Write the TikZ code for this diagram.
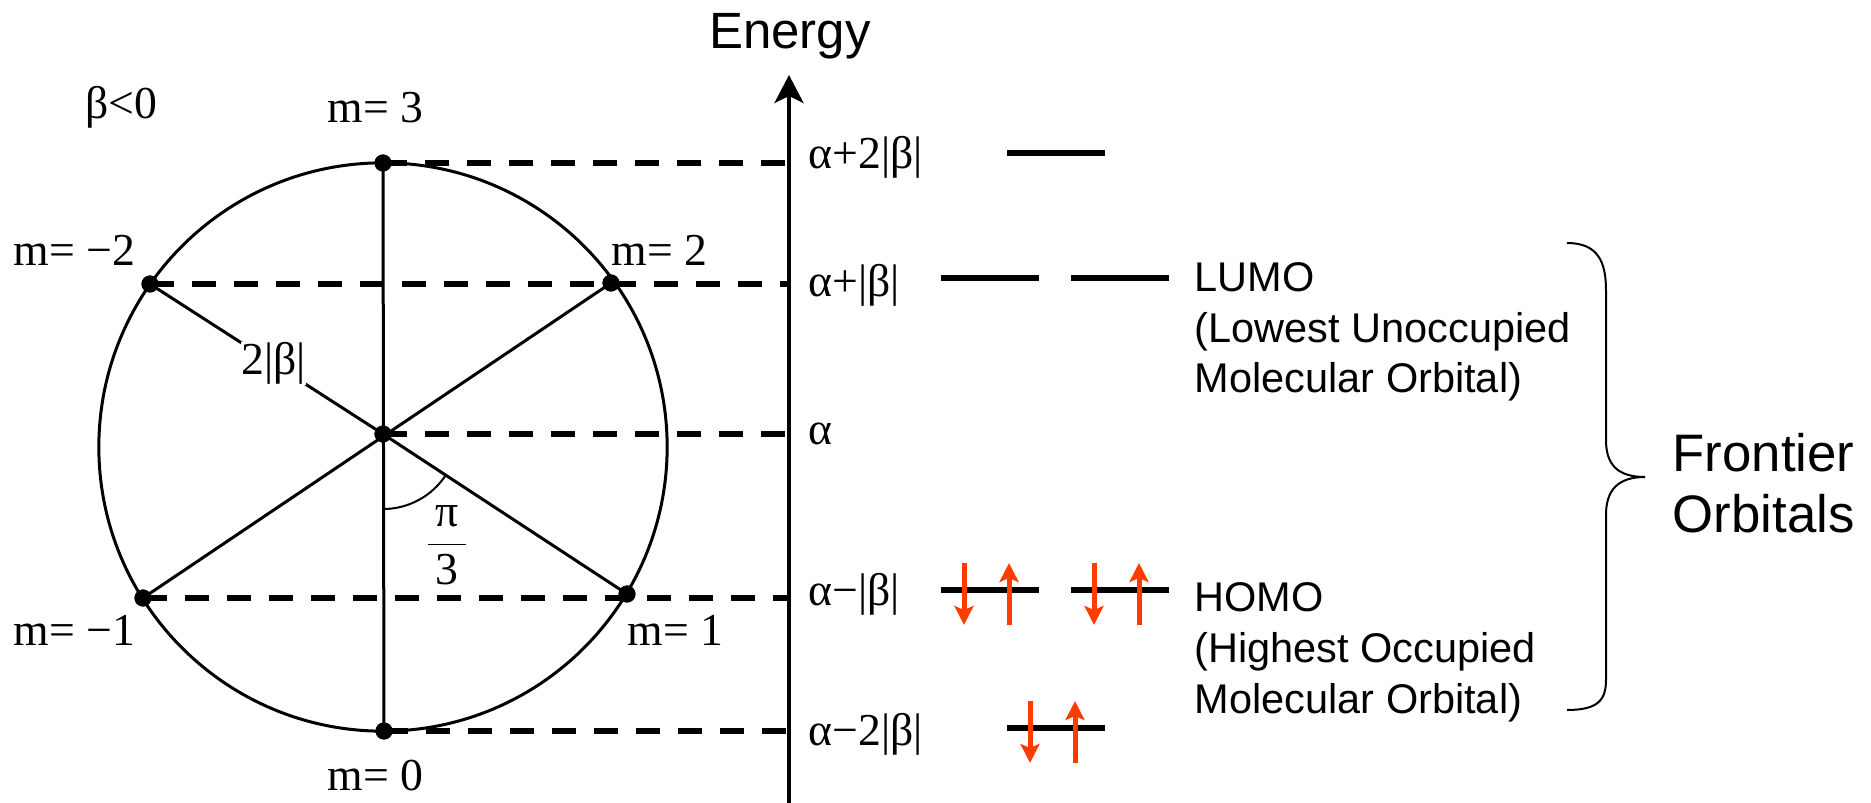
\documentclass[tikz,border=0pt]{standalone}
\usepackage{fontspec}
\setmainfont{Liberation Serif}
\setsansfont{Liberation Sans}
\usetikzlibrary{arrows.meta,positioning,calc}
\definecolor{cSpin}{HTML}{FF3C00}

\begin{document}
\begin{tikzpicture}[
    x=0.01cm, y=0.01cm,
    lab/.style={inner sep=0pt, font=\fontsize{13}{15}\selectfont},
    txt/.style={inner sep=0pt, align=left, font=\sffamily\fontsize{11.8}{14.4}\selectfont},
    dot/.style={circle, fill=black, inner sep=0pt, minimum size=0.17cm},
    ring/.style={line width=0.03cm},
    lvl/.style={line width=0.055cm, dash pattern=on 0.24cm off 0.18cm},
    orb/.style={fill=black, inner sep=0pt, minimum width=0.98cm, minimum height=0.06cm},
    spin/.style={draw=cSpin, line width=0.05cm, -{Stealth[length=0.19cm,width=0.19cm,inset=0.04cm]}},
    axis/.style={line width=0.04cm, -{Stealth[length=0.28cm,width=0.29cm,inset=0.07cm]}}
]
\useasboundingbox (0,0) rectangle (1871,-803);

\coordinate (o) at (383,-447);
\coordinate (ax) at (789,-803);
\coordinate (axtop) at (789,-75);

\node[dot] (m3) at (383,-163) {};
\node[dot] (mm2) at (150,-284) {};
\node[dot] (m2) at (611,-283) {};
\node[dot] (c) at (383,-434) {};
\node[dot] (mm1) at (143,-598) {};
\node[dot] (m1) at (627,-594) {};
\node[dot] (m0) at (384,-731) {};

\draw[lvl] (m3.center) -- (m3.center -| ax);
\draw[lvl] (mm2.center) -- (mm2.center -| ax);
\draw[lvl] (c.center) -- (c.center -| ax);
\draw[lvl] (mm1.center) -- (mm1.center -| ax);
\draw[lvl] (m0.center) -- (m0.center -| ax);

\draw[ring] (o) circle[radius=2.84cm];
\draw[ring] (m3.center) -- (m0.center);
\draw[ring] (mm2.center) -- node[pos=0.53, fill=white, inner sep=0.04cm, lab] (bond) {2|β|} (c.center);
\draw[ring] (c.center) -- (m1.center);
\draw[ring] (m2.center) -- (mm1.center);
\draw[line width=0.02cm] ([shift={(-90:0.75cm)}]c.center) arc[start angle=-90, end angle=-33, radius=0.75cm];

\foreach \d in {m3,mm2,m2,c,mm1,m1,m0} \node[dot] at (\d) {};

\node[lab, anchor=base west] (sign) at (85,-118) {β<0};
\node[lab, anchor=base west] (lm3) at (327,-123) {m= 3};
\node[lab, anchor=base west] (lmm2) at (13,-265) {m= −2};
\node[lab, anchor=base west] (lm2) at (611,-265) {m= 2};
\node[lab, anchor=base west] (lmm1) at (13,-645) {m= −1};
\node[lab, anchor=base west] (lm1) at (627,-645) {m= 1};
\node[lab, anchor=base west] (lm0) at (327,-790) {m= 0};
\node[lab] (ang) at (447,-545) {$\displaystyle\frac{\mbox{\,π\,}}{\mbox{3}}$};

\draw[axis] (ax) -- (axtop);
\node[inner sep=0pt, anchor=base, font=\sffamily\fontsize{14.5}{17}\selectfont] (energy) at (790,-48) {Energy};

\node[lab, anchor=base west] (e3) at (808,-168) {α+2|β|};
\node[lab, anchor=base west] (e2) at (808,-297) {α+|β|};
\node[lab, anchor=base west] (e0) at (808,-444) {α};
\node[lab, anchor=base west] (e1) at (808,-605) {α−|β|};
\node[lab, anchor=base west] (e00) at (808,-745) {α−2|β|};

\node[orb] (o3) at (1056,-153) {};
\node[orb] (o2a) at (990,-278) {};
\node[orb] (o2b) at (1120,-278) {};
\node[orb] (o1a) at (990,-590) {};
\node[orb] (o1b) at (1120,-590) {};
\node[orb] (o0) at (1056,-728) {};

\foreach \o in {o1a,o1b,o0} {
  \draw[spin] ([shift={(-26,27)}]\o.center) -- ([shift={(-26,-35)}]\o.center);
  \draw[spin] ([shift={(19,-35)}]\o.center) -- ([shift={(19,27)}]\o.center);
}

% anchors sit on the last line of each block
\node[txt, anchor=base west] (lumo) at (1194,-393) {LUMO\\(Lowest Unoccupied\\Molecular Orbital)};
\node[txt, anchor=base west] (homo) at (1194,-713) {HOMO\\(Highest Occupied\\Molecular Orbital)};

\draw[line width=0.02cm] (1567,-243) .. controls (1598,-243) and (1606,-262) .. (1606,-290) -- (1606,-440)
  .. controls (1606,-465) and (1618,-477) .. (1645,-477)
  .. controls (1618,-477) and (1606,-490) .. (1606,-515) -- (1606,-680)
  .. controls (1606,-700) and (1598,-710) .. (1567,-710);
\node[txt, font=\sffamily\fontsize{15}{17.1}\selectfont, anchor=base west] (front) at (1672,-532) {Frontier\\Orbitals};

\end{tikzpicture}
\end{document}
